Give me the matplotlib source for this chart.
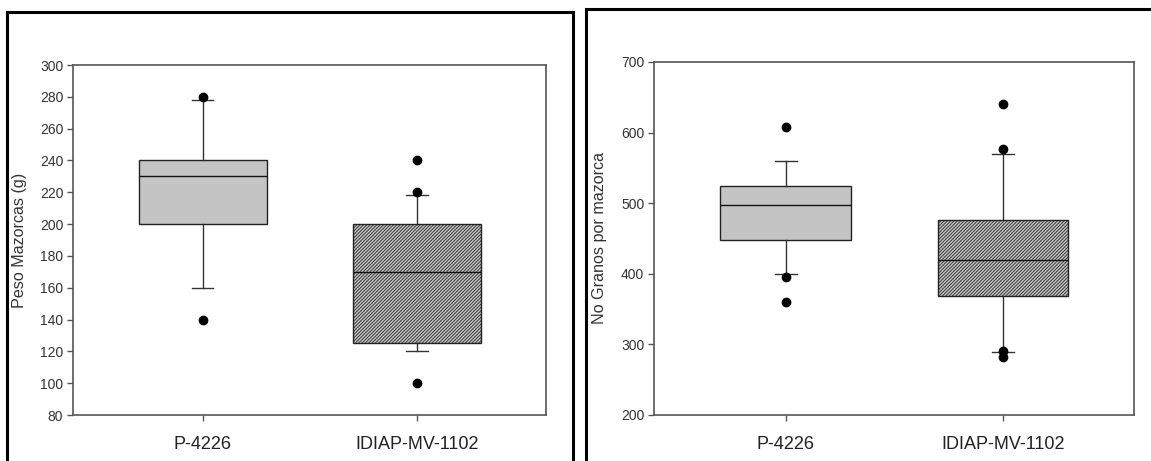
import matplotlib
matplotlib.use("Agg")
import matplotlib.pyplot as plt
from matplotlib.patches import Rectangle, PathPatch

plt.rcParams['font.family'] = ['Liberation Sans', 'DejaVu Sans']

categories = ["P-4226", "IDIAP-MV-1102"]

# Left panel: Peso Mazorcas (g)
peso_q1 = [200, 125]
peso_med = [230, 170]
peso_q3 = [240, 200]
peso_whislo = [160, 120]
peso_whishi = [278, 218]
peso_fliers = [[280, 140], [240, 220, 100]]

# Right panel: No Granos por mazorca
granos_q1 = [448, 368]
granos_med = [497, 420]
granos_q3 = [525, 476]
granos_whislo = [400, 289]
granos_whishi = [560, 570]
granos_fliers = [[608, 396, 360], [640, 577, 290, 282]]

peso_ticks = list(range(80, 301, 20))
granos_ticks = list(range(200, 701, 100))

W, H = 1151, 461
fig = plt.figure(figsize=(W / 100, H / 100), dpi=100)

spine_col = '#555555'
text_col = '#333333'


def make_stats(q1, med, q3, lo, hi, fl):
    out = []
    for i in range(len(q1)):
        out.append(dict(q1=q1[i], med=med[i], q3=q3[i], whislo=lo[i],
                        whishi=hi[i], fliers=fl[i], label=categories[i]))
    return out


def draw_panel(rect, stats, ylim, yticks, ylabel, ylabel_x):
    ax = fig.add_axes(rect)
    bp = ax.bxp(stats, positions=[1, 2], widths=0.6, capwidths=0.1,
                patch_artist=True, showfliers=True,
                boxprops=dict(linewidth=1.0, edgecolor='#222222'),
                medianprops=dict(color='#111111', linewidth=1.0),
                whiskerprops=dict(color='#333333', linewidth=1.0),
                capprops=dict(color='#333333', linewidth=1.0),
                flierprops=dict(marker='o', markerfacecolor='black',
                                markeredgecolor='black', markersize=6,
                                linestyle='none'))
    b0, b1 = bp['boxes']
    b0.set_facecolor('#c4c4c4')
    # hatched second box
    b1.set_facecolor('#333333')
    b1.set_edgecolor('#c8c8c8')
    b1.set_hatch('//////////')
    b1.set_linewidth(0)
    outline = PathPatch(b1.get_path(), facecolor='none', edgecolor='#222222',
                        linewidth=1.0, transform=b1.get_transform(), zorder=b1.get_zorder() + 0.1)
    ax.add_patch(outline)
    for m in bp['medians']:
        m.set_zorder(5)

    ax.set_xlim(0.394, 2.603)
    ax.set_ylim(*ylim)
    ax.set_yticks(yticks)
    ax.set_xticks([1, 2])
    ax.set_xticklabels(categories, fontsize=13, color='#222222')
    ax.tick_params(axis='y', direction='out', length=4, width=1, color=spine_col,
                   labelsize=10, labelcolor=text_col, pad=3)
    ax.tick_params(axis='x', direction='out', length=4, width=1, color=spine_col,
                   pad=11)
    for s in ax.spines.values():
        s.set_color(spine_col)
        s.set_linewidth(1.2)
    ax.set_ylabel(ylabel, fontsize=11.6, color=text_col)
    ax.yaxis.set_label_coords(ylabel_x, 0.5)
    return ax


def fx(px):
    return px / W


def fy(py):
    return 1 - py / H


ax1 = draw_panel([fx(73), fy(415), fx(546 - 73), (415 - 65) / H],
                 make_stats(peso_q1, peso_med, peso_q3, peso_whislo, peso_whishi, peso_fliers),
                 (80, 300), peso_ticks, "Peso Mazorcas (g)", (27 - 73) / 473)

ax2 = draw_panel([fx(654), fy(415), fx(1134 - 654), (415 - 62) / H],
                 make_stats(granos_q1, granos_med, granos_q3, granos_whislo, granos_whishi, granos_fliers),
                 (200, 700), granos_ticks, "No Granos por mazorca", (607 - 654) / 480)

# panel frames
fig.add_artist(Rectangle((fx(7), fy(500)), fx(573 - 7), (500 - 12) / H,
                         transform=fig.transFigure, fill=False, edgecolor='black',
                         linewidth=2.2, clip_on=False))
fig.add_artist(Rectangle((fx(586), fy(500)), fx(1200 - 586), (500 - 9) / H,
                         transform=fig.transFigure, fill=False, edgecolor='black',
                         linewidth=2.2, clip_on=False))

fig.savefig("out.png", dpi=100, facecolor='white')
